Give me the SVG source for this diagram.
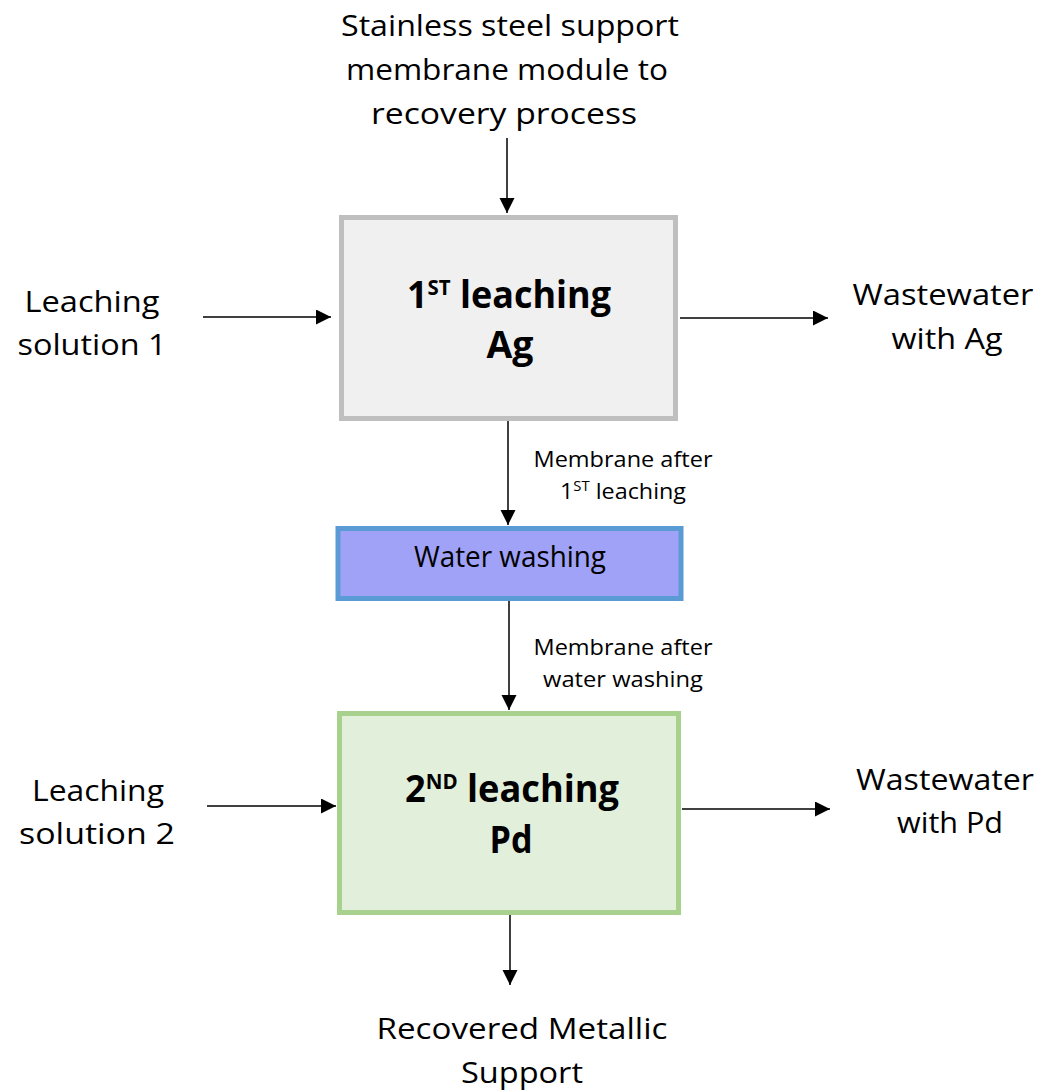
<svg xmlns="http://www.w3.org/2000/svg" width="1043" height="1091" viewBox="0 0 1043 1091">
<style>
text{font-family:"Open Sans","Noto Sans","DejaVu Sans",sans-serif;fill:#000;text-anchor:middle}
.lbl{font-size:30px}
.sm{font-size:22px}
.ttl{font-size:37px;font-weight:bold}
.conn line{stroke:#000;stroke-width:1.5;fill:none}
</style>
<defs>
<marker id="ah" markerUnits="userSpaceOnUse" markerWidth="16" markerHeight="16" viewBox="0 0 16 16" refX="15" refY="7.5" orient="auto">
<path d="M0,0 L15,7.5 L0,15 z" fill="#000"/>
</marker>
</defs>
<g id="connectors" class="conn">
<line x1="507" y1="138" x2="507" y2="213" marker-end="url(#ah)"/>
<line x1="508" y1="421" x2="508" y2="525" marker-end="url(#ah)"/>
<line x1="509" y1="601" x2="509" y2="710" marker-end="url(#ah)"/>
<line x1="510" y1="915" x2="510" y2="985" marker-end="url(#ah)"/>
<line x1="203" y1="317" x2="331" y2="317" marker-end="url(#ah)"/>
<line x1="680" y1="318" x2="828" y2="318" marker-end="url(#ah)"/>
<line x1="207" y1="806" x2="336" y2="806" marker-end="url(#ah)"/>
<line x1="682" y1="809" x2="830" y2="809" marker-end="url(#ah)"/>
</g>
<g id="label-top">
<text class="lbl" x="510" y="36" textLength="338" lengthAdjust="spacingAndGlyphs">Stainless steel support</text>
<text class="lbl" x="507" y="80" textLength="322" lengthAdjust="spacingAndGlyphs">membrane module to</text>
<text class="lbl" x="504" y="124" textLength="266" lengthAdjust="spacingAndGlyphs">recovery process</text>
</g>
<g id="node-leach1">
<rect x="341.5" y="217.5" width="334" height="201" fill="#f0f0f0" stroke="#bfbfbf" stroke-width="5"/>
<text class="ttl" x="509" y="308" textLength="204" lengthAdjust="spacingAndGlyphs">1<tspan font-size="21" dy="-13">ST</tspan><tspan dy="13"> leaching</tspan></text>
<text class="ttl" x="510" y="358" textLength="47" lengthAdjust="spacingAndGlyphs">Ag</text>
</g>
<g id="label-ls1">
<text class="lbl" x="92" y="312" textLength="135" lengthAdjust="spacingAndGlyphs">Leaching</text>
<text class="lbl" x="92" y="355" textLength="149" lengthAdjust="spacingAndGlyphs">solution 1</text>
</g>
<g id="label-ww1">
<text class="lbl" x="943" y="305" textLength="181" lengthAdjust="spacingAndGlyphs">Wastewater</text>
<text class="lbl" x="947" y="349" textLength="111" lengthAdjust="spacingAndGlyphs">with Ag</text>
</g>
<g id="label-m1">
<text class="sm" x="623" y="467" textLength="179" lengthAdjust="spacingAndGlyphs">Membrane after</text>
<text class="sm" x="623" y="499" textLength="126" lengthAdjust="spacingAndGlyphs">1<tspan font-size="14" dy="-8">ST</tspan><tspan dy="8"> leaching</tspan></text>
</g>
<g id="node-wash">
<rect x="338" y="528.5" width="343" height="70" fill="#9fa2f7" stroke="#5b9bd5" stroke-width="5"/>
<text class="lbl" x="510" y="567" textLength="192" lengthAdjust="spacingAndGlyphs">Water washing</text>
</g>
<g id="label-m2">
<text class="sm" x="623" y="655" textLength="179" lengthAdjust="spacingAndGlyphs">Membrane after</text>
<text class="sm" x="623" y="687" textLength="160" lengthAdjust="spacingAndGlyphs">water washing</text>
</g>
<g id="node-leach2">
<rect x="339.5" y="713.5" width="339" height="199" fill="#e2efda" stroke="#a9d18e" stroke-width="5"/>
<text class="ttl" x="512" y="802" textLength="214" lengthAdjust="spacingAndGlyphs">2<tspan font-size="21" dy="-13">ND</tspan><tspan dy="13"> leaching</tspan></text>
<text class="ttl" x="511" y="853" textLength="43" lengthAdjust="spacingAndGlyphs">Pd</text>
</g>
<g id="label-ls2">
<text class="lbl" x="98" y="801" textLength="132" lengthAdjust="spacingAndGlyphs">Leaching</text>
<text class="lbl" x="97" y="844" textLength="156" lengthAdjust="spacingAndGlyphs">solution 2</text>
</g>
<g id="label-ww2">
<text class="lbl" x="945" y="790" textLength="178" lengthAdjust="spacingAndGlyphs">Wastewater</text>
<text class="lbl" x="950" y="833" textLength="106" lengthAdjust="spacingAndGlyphs">with Pd</text>
</g>
<g id="label-out">
<text class="lbl" x="522" y="1039" textLength="291" lengthAdjust="spacingAndGlyphs">Recovered Metallic</text>
<text class="lbl" x="522" y="1083" textLength="122" lengthAdjust="spacingAndGlyphs">Support</text>
</g>
</svg>
